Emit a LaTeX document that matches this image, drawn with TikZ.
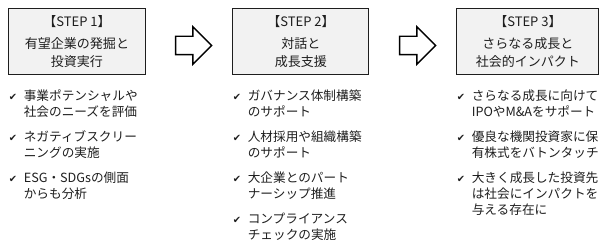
\documentclass[tikz,border=0pt]{standalone}
\usepackage{fontspec}
\setmainfont{Noto Sans CJK JP}
\newfontfamily\symfont{DejaVu Sans}
\usepackage{tikz}
\usetikzlibrary{positioning,calc,shapes.arrows}

\definecolor{boxgray}{HTML}{F2F2F2}
\definecolor{inkgray}{HTML}{1E1E1E}
\newcommand{\chk}{{\symfont\fontsize{7pt}{7pt}\selectfont ✔}}

\begin{document}
\begin{tikzpicture}[
    node distance=0.65cm and 2.175cm,
    stepbox/.style={draw=inkgray, line width=0.7pt, fill=boxgray, align=center, minimum height=1.65cm, inner sep=0pt, text=inkgray, font=\fontsize{9.25pt}{12.8pt}\selectfont},
    items/.style={inner sep=0pt, text=inkgray, font=\fontsize{9pt}{11.38pt}\selectfont},
    nextarrow/.style={single arrow, draw=black, line width=1pt, fill=white, inner sep=0pt, text width=0pt, text height=0.2125cm, text depth=0.2125cm, minimum height=0.9cm, single arrow head extend=0.2375cm, single arrow tip angle=90}
]
\useasboundingbox (0,0) rectangle (15,-6.175);

\node[stepbox, minimum width=3.4cm, anchor=north west] (step1) at (0.2125,-0.2) {【STEP 1】\\[2.85pt]有望企業の発掘と\\投資実行};
\node[stepbox, minimum width=3.4cm, right=of step1] (step2) {【STEP 2】\\[2.85pt]対話と\\成長支援};
\node[stepbox, minimum width=3.55cm, right=of step2] (step3) {【STEP 3】\\[2.85pt]さらなる成長と\\社会的インパクト};

\node[nextarrow] (arr1) at ($(step1.east)!0.5!(step2.west)+(0,-0.1)$) {};
\node[nextarrow] (arr2) at ($(step2.east)!0.5!(step3.west)+(0,-0.1)$) {};

\node[items, below=0.65cm of step1.south west, anchor=base west] (list1) {%
\begin{tabular}[t]{@{}l@{\hspace{0.17cm}}l@{}}
\chk & 事業ポテンシャルや\\
     & 社会のニーズを評価\\[6.4pt]
\chk & ネガティブスクリー\\
     & ニングの実施\\[6.4pt]
\chk & ESG・SDGsの側面\\
     & からも分析
\end{tabular}};
\node[items, below=0.65cm of step2.south west, anchor=base west] (list2) {%
\begin{tabular}[t]{@{}l@{\hspace{0.17cm}}l@{}}
\chk & ガバナンス体制構築\\
     & のサポート\\[6.4pt]
\chk & 人材採用や組織構築\\
     & のサポート\\[6.4pt]
\chk & 大企業とのパート\\
     & ナーシップ推進\\[6.4pt]
\chk & コンプライアンス\\
     & チェックの実施
\end{tabular}};
\node[items, below=0.65cm of step3.south west, anchor=base west] (list3) {%
\begin{tabular}[t]{@{}l@{\hspace{0.17cm}}l@{}}
\chk & さらなる成長に向けて\\
     & IPOやM\&Aをサポート\\[6.4pt]
\chk & 優良な機関投資家に保\\
     & 有株式をバトンタッチ\\[6.4pt]
\chk & 大きく成長した投資先\\
     & は社会にインパクトを\\
     & 与える存在に
\end{tabular}};
\end{tikzpicture}
\end{document}
